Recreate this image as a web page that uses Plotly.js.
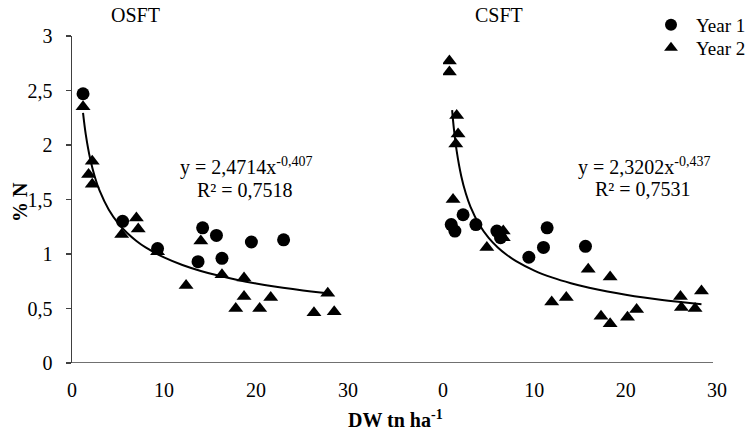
<!DOCTYPE html>
<html>
<head>
<meta charset="utf-8">
<script src="https://cdn.plot.ly/plotly-3.0.1.min.js"></script>
<style>html,body{margin:0;padding:0;background:#fff;}#chart{width:751px;height:432px;}</style>
</head>
<body>
<div id="chart"></div>
<script>
// OSFT (left panel)
const osftY1x = [1.2, 5.5, 9.3, 13.7, 14.2, 15.7, 16.3, 19.5, 23.0];
const osftY1y = [2.47, 1.30, 1.05, 0.93, 1.24, 1.17, 0.96, 1.11, 1.13];
const osftY2x = [1.2, 2.2, 1.8, 2.2, 5.4, 7.0, 7.2, 9.3, 12.4, 14.0, 16.3, 18.7, 18.7, 17.8, 20.4, 21.6, 26.3, 27.8, 28.5];
const osftY2y = [2.35, 1.85, 1.73, 1.64, 1.18, 1.33, 1.23, 1.02, 0.71, 1.12, 0.81, 0.78, 0.61, 0.50, 0.50, 0.60, 0.46, 0.64, 0.47];
// CSFT (right panel)
const csftY1x = [0.9, 1.3, 2.2, 3.6, 5.9, 6.3, 9.4, 11.0, 11.4, 15.6];
const csftY1y = [1.27, 1.21, 1.36, 1.27, 1.21, 1.15, 0.97, 1.06, 1.24, 1.07];
const csftY2x = [0.7, 0.7, 1.5, 1.65, 1.4, 1.1, 4.8, 6.6, 6.6, 11.9, 13.5, 15.9, 18.3, 17.3, 18.3, 20.2, 21.2, 26.0, 26.1, 27.6, 28.3];
const csftY2y = [2.77, 2.67, 2.27, 2.10, 2.01, 1.50, 1.06, 1.21, 1.15, 0.56, 0.60, 0.86, 0.79, 0.43, 0.36, 0.42, 0.49, 0.61, 0.51, 0.50, 0.66];
// Published power trendlines y = a * x^b
const osftA = 2.4714, osftB = -0.407;
const csftA = 2.3202, csftB = -0.437;
const osftFitX = [1.2, 1.5, 2, 2.5, 3, 4, 5, 6, 7, 8, 10, 12, 14, 16, 18, 20, 22, 24, 26, 28];
const csftFitX = [1.0, 1.2, 1.5, 2, 2.5, 3, 4, 5, 6, 7, 8, 10, 12, 14, 16, 18, 20, 22, 24, 26, 28.3];
const yTicks = [0, 0.5, 1, 1.5, 2, 2.5, 3];
const yTickText = ['0', '0,5', '1', '1,5', '2', '2,5', '3'];
const xTicks = [0, 10, 20, 30];
const xTickText = ['0', '10', '20', '30'];

const F = 'Liberation Serif';
const mk1 = {symbol: 'circle', size: 13, color: '#000'};
const mk2 = {symbol: 'triangle-up', size: 13, color: '#000'};

const traces = [
  {x: osftY1x, y: osftY1y, xaxis: 'x', yaxis: 'y', mode: 'markers', type: 'scatter', marker: mk1, name: 'Year 1', legendgroup: 'y1', legend: 'legend', showlegend: true},
  {x: osftY2x, y: osftY2y, xaxis: 'x', yaxis: 'y', mode: 'markers', type: 'scatter', marker: mk2, name: 'Year 2', legendgroup: 'y2', legend: 'legend2', showlegend: true},
  {x: osftFitX, y: osftFitX.map(v => osftA * Math.pow(v, osftB)), xaxis: 'x', yaxis: 'y', mode: 'lines', type: 'scatter', line: {color: '#000', width: 2, shape: 'spline'}, showlegend: false},
  {x: csftY1x, y: csftY1y, xaxis: 'x2', yaxis: 'y', mode: 'markers', type: 'scatter', marker: mk1, name: 'Year 1', legendgroup: 'y1', showlegend: false},
  {x: csftY2x, y: csftY2y, xaxis: 'x2', yaxis: 'y', mode: 'markers', type: 'scatter', marker: mk2, name: 'Year 2', legendgroup: 'y2', showlegend: false},
  {x: csftFitX, y: csftFitX.map(v => csftA * Math.pow(v, csftB)), xaxis: 'x2', yaxis: 'y', mode: 'lines', type: 'scatter', line: {color: '#000', width: 2, shape: 'spline'}, showlegend: false}
];

const TOP = 36, BOT = 363, LEFT = 72, RIGHT = 717;
const W = RIGHT - LEFT, H = BOT - TOP;

const xCommon = {
  range: [0, 30], showline: false, showgrid: false, zeroline: false,
  tickvals: xTicks, ticktext: xTickText, ticks: '', ticklabelstandoff: 13,
  tickfont: {family: F, size: 20, color: '#000'}, anchor: 'y', fixedrange: true, automargin: false
};

function ann(text, px, py, size, extra) {
  return Object.assign({text: text, xref: 'paper', yref: 'paper', x: (px - LEFT) / W, y: (BOT - py) / H,
    xanchor: 'center', yanchor: 'middle', showarrow: false, font: {family: F, size: size, color: '#000'}}, extra || {});
}

function leg(topPx) {
  return {x: (646 - LEFT) / W, y: (BOT - topPx) / H, xanchor: 'left', yanchor: 'top', bgcolor: 'rgba(0,0,0,0)',
          font: {family: F, size: 19, color: '#000'}, itemsizing: 'constant', itemwidth: 40, tracegroupgap: 0};
}

const layout = {
  width: 751, height: 432,
  margin: {l: LEFT, r: 751 - RIGHT, t: TOP, b: 432 - BOT, autoexpand: false},
  paper_bgcolor: '#fff', plot_bgcolor: '#fff',
  font: {family: F, size: 20, color: '#000'},
  separators: ', ',
  xaxis: Object.assign({}, xCommon, {domain: [0, (348 - LEFT) / W]}),
  xaxis2: Object.assign({}, xCommon, {domain: [(443 - LEFT) / W, 1]}),
  yaxis: {
    range: [0, 3], tickvals: yTicks, ticktext: yTickText,
    showline: true, linecolor: '#404040', linewidth: 1.5,
    ticks: 'outside', ticklen: 5, tickcolor: '#404040', tickwidth: 1.5,
    showgrid: false, zeroline: false, ticklabelstandoff: 9, automargin: false,
    tickfont: {family: F, size: 20, color: '#000'}, fixedrange: true
  },
  showlegend: true,
  legend: leg(6),
  legend2: leg(29),
  shapes: [
    {type: 'line', xref: 'paper', yref: 'y', x0: 0, x1: (713 - LEFT) / W, y0: 0, y1: 0, line: {color: '#404040', width: 1.5}}
  ],
  annotations: [
    ann('OSFT', 135, 15, 20),
    ann('CSFT', 499, 15, 20),
    ann('y = 2,4714x<sup>-0,407</sup>', 246, 166, 20),
    ann('R² = 0,7518', 245, 190, 20),
    ann('y = 2,3202x<sup>-0,437</sup>', 644, 166, 20),
    ann('R² = 0,7531', 643, 189, 20),
    ann('<b>% N</b>', 20, 202, 20, {textangle: -90}),
    ann('<b>DW tn ha<sup>-1</sup></b>', 395, 419, 20)
  ]
};

Plotly.newPlot('chart', traces, layout, {staticPlot: true, displayModeBar: false});
</script>
</body>
</html>
